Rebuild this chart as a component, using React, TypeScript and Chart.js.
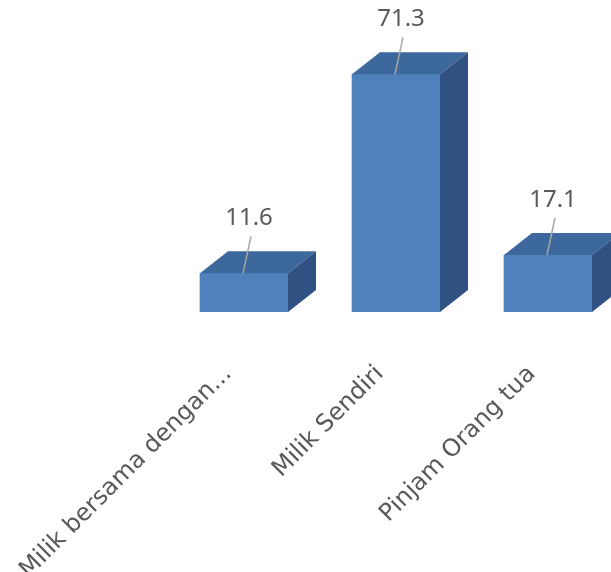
import React, { useEffect, useRef } from 'react';
import { Chart, registerables } from 'chart.js';

Chart.register(...registerables);

const categories = ['Milik bersama dengan...', 'Milik Sendiri', 'Pinjam Orang tua'];
const values = [11.6, 71.3, 17.1];
const valueLabels = ['11.6', '71.3', '17.1'];

const FRONT = '#4f81bd';
const TOP = '#3d689c';
const SIDE = '#2f5282';
const DEPTH_X = 28;
const DEPTH_Y = 22;

const bar3d = {
  id: 'bar3d',
  afterDatasetsDraw(chart: any) {
    const ctx = chart.ctx;
    const meta = chart.getDatasetMeta(0);
    meta.data.forEach((bar: any, i: number) => {
      const { x, y, base, width } = bar.getProps(['x', 'y', 'base', 'width'], true);
      const l = x - width / 2;
      const r = x + width / 2;
      ctx.save();
      ctx.fillStyle = TOP;
      ctx.beginPath();
      ctx.moveTo(l, y);
      ctx.lineTo(l + DEPTH_X, y - DEPTH_Y);
      ctx.lineTo(r + DEPTH_X, y - DEPTH_Y);
      ctx.lineTo(r, y);
      ctx.closePath();
      ctx.fill();
      ctx.fillStyle = SIDE;
      ctx.beginPath();
      ctx.moveTo(r, y);
      ctx.lineTo(r + DEPTH_X, y - DEPTH_Y);
      ctx.lineTo(r + DEPTH_X, base - DEPTH_Y);
      ctx.lineTo(r, base);
      ctx.closePath();
      ctx.fill();
      // data label + leader line
      const lx = x + 5;
      const ly = y - 55;
      ctx.strokeStyle = '#a6a6a6';
      ctx.lineWidth = 1.5;
      ctx.beginPath();
      ctx.moveTo(lx + 2, ly + 18);
      ctx.lineTo(x - 1, y);
      ctx.stroke();
      ctx.fillStyle = '#595959';
      ctx.font = '24px "Noto Sans"';
      ctx.textAlign = 'center';
      ctx.textBaseline = 'middle';
      ctx.fillText(valueLabels[i], lx, ly);
      ctx.restore();
    });
  },
};

export default function App() {
  const ref = useRef<HTMLCanvasElement>(null);
  useEffect(() => {
    const chart = new Chart(ref.current as HTMLCanvasElement, {
      type: 'bar',
      data: {
        labels: categories,
        datasets: [
          {
            data: values,
            backgroundColor: FRONT,
            borderWidth: 0,
            barThickness: 88,
          },
        ],
      },
      options: {
        animation: false,
        responsive: false,
        devicePixelRatio: 1,
        layout: { padding: { left: 168, right: 36, top: 12, bottom: 0 } },
        plugins: { legend: { display: false }, tooltip: { enabled: false } },
        scales: {
          y: { display: false, min: 0, max: 90 },
          x: {
            grid: { display: false, drawTicks: false },
            border: { display: false },
            afterFit: (scale: any) => {
              scale.height = 260;
              scale.paddingLeft = 0;
              scale.paddingRight = 0;
            },
            ticks: {
              autoSkip: false,
              minRotation: 45,
              maxRotation: 45,
              padding: 48,
              labelOffset: -16,
              color: '#595959',
              font: { family: '"DejaVu Sans", sans-serif', size: 24 },
            },
          },
        },
      },
      plugins: [bar3d],
    });
    return () => chart.destroy();
  }, []);
  return (
    <div style={{ position: 'fixed', left: 0, top: 0, width: 611, height: 572, overflow: 'hidden', background: '#fff' }}>
      <canvas ref={ref} width={660} height={572} style={{ display: 'block' }} />
    </div>
  );
}
